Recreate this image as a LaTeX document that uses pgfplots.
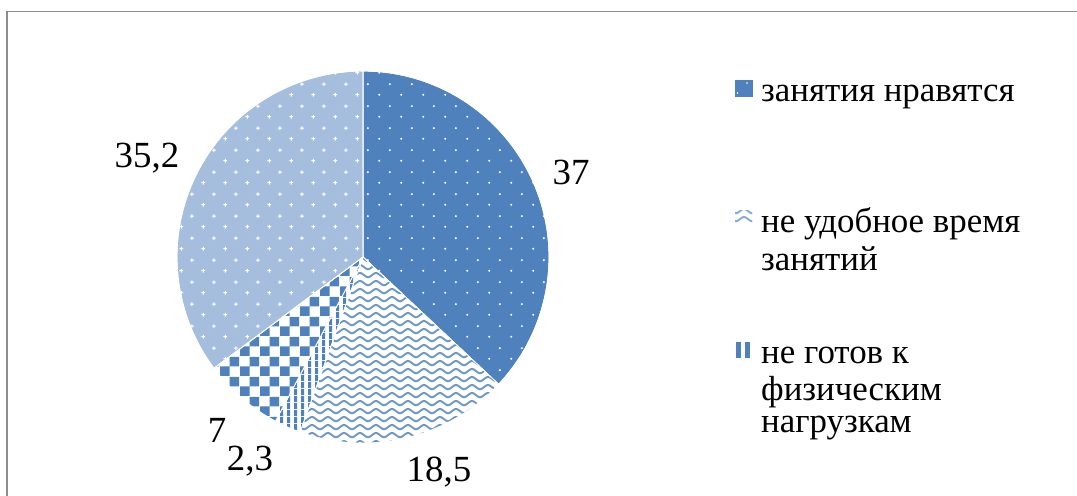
\documentclass[border=0pt]{standalone}
\usepackage{fontspec}
\setmainfont{Liberation Serif}
\usepackage{pgfplots}
\pgfplotsset{compat=1.18}
\usepackage{pgfplotstable}
\usetikzlibrary{patterns}

\definecolor{pblue}{HTML}{4F81BD}
\definecolor{lblue}{HTML}{A5BEDE}
\definecolor{framec}{HTML}{8C8C8C}

% white sparse dots (staggered)
\pgfdeclarepatternformonly{sparsedots}{\pgfqpoint{0bp}{0bp}}{\pgfqpoint{22bp}{22bp}}{\pgfqpoint{22bp}{22bp}}{%
  \pgfpathcircle{\pgfqpoint{5.5bp}{5.5bp}}{1.2bp}%
  \pgfpathcircle{\pgfqpoint{16.5bp}{16.5bp}}{1.2bp}%
  \pgfusepath{fill}}
% small stars (plus shapes), staggered
\pgfdeclarepatternformonly{sparsestars}{\pgfqpoint{0bp}{0bp}}{\pgfqpoint{22bp}{22bp}}{\pgfqpoint{22bp}{22bp}}{%
  \pgfpathrectangle{\pgfqpoint{3.5bp}{5bp}}{\pgfqpoint{4bp}{1bp}}%
  \pgfpathrectangle{\pgfqpoint{5bp}{3.5bp}}{\pgfqpoint{1bp}{4bp}}%
  \pgfpathrectangle{\pgfqpoint{14.5bp}{16bp}}{\pgfqpoint{4bp}{1bp}}%
  \pgfpathrectangle{\pgfqpoint{16bp}{14.5bp}}{\pgfqpoint{1bp}{4bp}}%
  \pgfusepath{fill}}
% zigzag waves
\pgfdeclarepatternformonly{waves}{\pgfqpoint{-1bp}{-1bp}}{\pgfqpoint{17bp}{9bp}}{\pgfqpoint{16bp}{8bp}}{%
  \pgfsetlinewidth{1.8bp}\pgfsetroundjoin\pgfsetroundcap
  \pgfpathmoveto{\pgfqpoint{0bp}{1.6bp}}%
  \pgfpathcurveto{\pgfqpoint{2bp}{1.6bp}}{\pgfqpoint{6bp}{6.2bp}}{\pgfqpoint{8bp}{6.2bp}}%
  \pgfpathcurveto{\pgfqpoint{10bp}{6.2bp}}{\pgfqpoint{14bp}{1.6bp}}{\pgfqpoint{16bp}{1.6bp}}%
  \pgfusepath{stroke}}
% vertical stripes
\pgfdeclarepatternformonly{vstripes}{\pgfqpoint{0bp}{0bp}}{\pgfqpoint{6.5bp}{6.5bp}}{\pgfqpoint{6.5bp}{6.5bp}}{%
  \pgfpathrectangle{\pgfqpoint{0bp}{0bp}}{\pgfqpoint{3.4bp}{6.5bp}}%
  \pgfusepath{fill}}
% checkerboard
\pgfdeclarepatternformonly{bigcheck}{\pgfqpoint{0bp}{0bp}}{\pgfqpoint{20bp}{20bp}}{\pgfqpoint{20bp}{20bp}}{%
  \pgfpathrectangle{\pgfqpoint{0bp}{0bp}}{\pgfqpoint{10bp}{10bp}}%
  \pgfpathrectangle{\pgfqpoint{10bp}{10bp}}{\pgfqpoint{10bp}{10bp}}%
  \pgfusepath{fill}}

\pgfplotstableread{
label value
a 37
b 18.5
c 2.3
d 7
e 35.2
}\piedata

\begin{document}
\begin{tikzpicture}
\pgfplotstablegetelem{0}{value}\of\piedata \let\vA\pgfplotsretval
\pgfplotstablegetelem{1}{value}\of\piedata \let\vB\pgfplotsretval
\pgfplotstablegetelem{2}{value}\of\piedata \let\vC\pgfplotsretval
\pgfplotstablegetelem{3}{value}\of\piedata \let\vD\pgfplotsretval
\pgfplotstablegetelem{4}{value}\of\piedata \let\vE\pgfplotsretval
\pgfmathsetmacro\tA{90}
\pgfmathsetmacro\tB{\tA-3.6*\vA}
\pgfmathsetmacro\tC{\tB-3.6*\vB}
\pgfmathsetmacro\tD{\tC-3.6*\vC}
\pgfmathsetmacro\tE{\tD-3.6*\vD}
\pgfmathsetmacro\tF{\tE-3.6*\vE}
\begin{axis}[width=1077bp,height=495bp,scale only axis,hide axis,
  xmin=0,xmax=1077,ymin=0,ymax=495,y dir=reverse,clip=false]
\addplot[draw=white,line width=0.8bp,fill=pblue,
  postaction={pattern=sparsedots,pattern color=white},
  domain=\tB:\tA,samples=120,variable=\t]
  ({363+186*cos(t)},{257-186*sin(t)}) -- (axis cs:363,257) -- cycle;
\addplot[draw=white,line width=0.8bp,fill=white,
  postaction={pattern=waves,pattern color=pblue!85},
  domain=\tC:\tB,samples=80,variable=\t]
  ({363+186*cos(t)},{257-186*sin(t)}) -- (axis cs:363,257) -- cycle;
\addplot[draw=white,line width=0.8bp,fill=white,
  postaction={pattern=vstripes,pattern color=pblue},
  domain=\tD:\tC,samples=20,variable=\t]
  ({363+186*cos(t)},{257-186*sin(t)}) -- (axis cs:363,257) -- cycle;
\addplot[draw=white,line width=0.8bp,fill=white,
  postaction={pattern=bigcheck,pattern color=pblue},
  domain=\tE:\tD,samples=40,variable=\t]
  ({363+186*cos(t)},{257-186*sin(t)}) -- (axis cs:363,257) -- cycle;
\addplot[draw=white,line width=0.8bp,fill=lblue,
  postaction={pattern=sparsestars,pattern color=white},
  domain=\tF:\tE,samples=120,variable=\t]
  ({363+186*cos(t)},{257-186*sin(t)}) -- (axis cs:363,257) -- cycle;

% frame
\draw[framec,line width=1.6bp] (axis cs:7,1000) -- (axis cs:7,11.5) -- (axis cs:1200,11.5);

% data labels
\begin{scope}[every node/.style={font=\fontsize{37}{40}\selectfont,inner sep=0pt,anchor=center}]
\node at (axis cs:571,172) {37};
\node at (axis cs:147,158) {35,2};
\node at (axis cs:439,472) {18,5};
\node at (axis cs:250,461) {2,3};
\node at (axis cs:217,430) {7};
\end{scope}

% legend
\fill[pblue] (axis cs:735,80) rectangle (axis cs:753,97);
\fill[white] (axis cs:747,83) circle (0.9bp);
\fill[white] (axis cs:737.5,93) circle (0.9bp);
\fill[pattern=waves,pattern color=pblue!70] (axis cs:735,210) rectangle (axis cs:752,223);
\fill[pblue] (axis cs:736,342) rectangle (axis cs:741,358);
\fill[pblue] (axis cs:745,342) rectangle (axis cs:750,358);
\begin{scope}[every node/.style={font=\fontsize{35}{38}\selectfont,inner sep=0pt,anchor=base west}]
\node at (axis cs:761,101) {занятия нравятся};
\node at (axis cs:761,232) {не удобное время};
\node at (axis cs:761,270) {занятий};
\node at (axis cs:761,363) {не готов к};
\node at (axis cs:761,400) {физическим};
\node at (axis cs:761,432) {нагрузкам};
\end{scope}
\end{axis}
\pgfresetboundingbox
\path[use as bounding box] (current axis.south west) rectangle (current axis.north east);
\end{tikzpicture}
\end{document}
